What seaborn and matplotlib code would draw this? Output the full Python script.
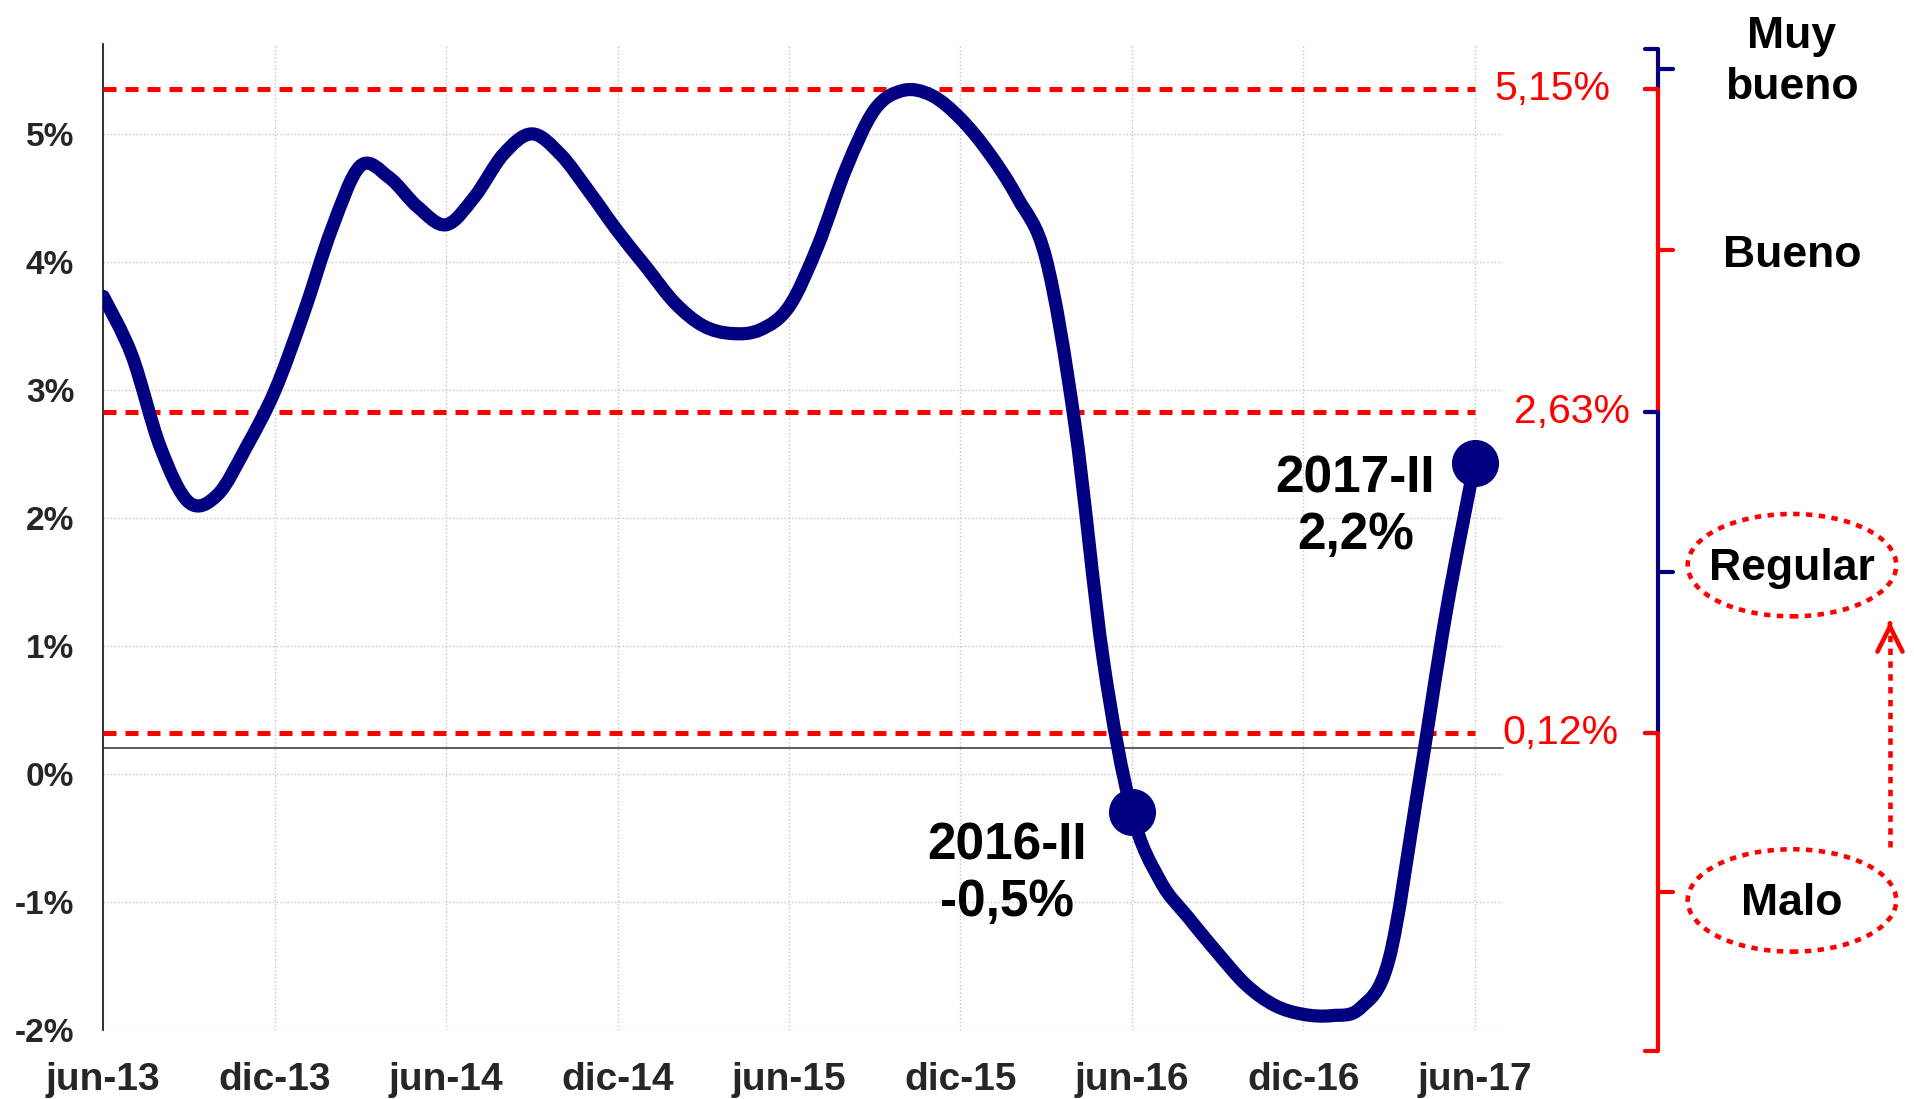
import matplotlib.pyplot as plt
import matplotlib.transforms as mtransforms
from matplotlib.patches import Ellipse, PathPatch
from matplotlib.path import Path
import numpy as np
import pandas as pd
import seaborn as sns

# monthly growth (%), jun-13 .. jun-17
growth = [3.53, 3.07, 2.35, 1.92, 1.98, 2.35, 2.79, 3.39, 4.06, 4.55,
          4.46, 4.23, 4.09, 4.31, 4.64, 4.80, 4.64, 4.35, 4.04, 3.76,
          3.48, 3.30, 3.24, 3.27, 3.45, 3.92, 4.53, 4.99, 5.14, 5.10,
          4.92, 4.65, 4.30, 3.82, 2.54, 0.69, -0.50, -1.04, -1.33, -1.60,
          -1.85, -2.01, -2.08, -2.09, -2.03, -1.65, -0.34, 1.06, 2.23]
month_labels = ["jun-13", "dic-13", "jun-14", "dic-14", "jun-15",
                "dic-15", "jun-16", "dic-16", "jun-17"]
ytick_values = [-2, -1, 0, 1, 2, 3, 4, 5]

thresholds = [5.15, 2.63, 0.12]
threshold_labels = ["5,15%", "2,63%", "0,12%"]

categories = ["Muy\nbueno", "Bueno", "Regular", "Malo"]
band_edges = [5.46, 5.15, 2.63, 0.12, -2.37]   # top to bottom

highlight_idx = [36, 48]
highlight_labels = ["2016-II\n-0,5%", "2017-II\n2,2%"]

NAVY = "#000080"
RED = "#ff0000"

sns.set_style("white")
plt.rcParams["font.family"] = ["Liberation Sans", "DejaVu Sans"]

df = pd.DataFrame({"m": np.arange(len(growth)), "growth": growth})

fig = plt.figure(figsize=(19.15, 10.99), dpi=100)
ax = fig.add_axes([0.05394, 0.06306, 0.73107, 0.89663])

sns.lineplot(data=df, x="m", y="growth", color=NAVY, linewidth=9.5, ax=ax, zorder=4)

# Excel-style smoothed line: redraw seaborn's line as a Bezier path through the same points
line = ax.lines[-1]
pts = line.get_xydata()
verts = [pts[0]]
codes = [Path.MOVETO]
for i in range(len(pts) - 1):
    p0 = pts[max(i - 1, 0)]
    p1, p2 = pts[i], pts[i + 1]
    p3 = pts[min(i + 2, len(pts) - 1)]
    verts += [p1 + (p2 - p0) / 6, p2 - (p3 - p1) / 6, p2]
    codes += [Path.CURVE4] * 3
ax.add_patch(PathPatch(Path(verts, codes), facecolor="none", edgecolor=NAVY,
                       linewidth=9.5, joinstyle="round", capstyle="round", zorder=4))
line.set_visible(False)

sns.scatterplot(data=df.iloc[highlight_idx], x="m", y="growth", s=1150,
                color=NAVY, linewidth=0, ax=ax, zorder=5)

# threshold lines
ax.hlines(thresholds, 0, len(growth) - 1, colors=RED, linewidth=3.6,
          linestyles=(0, (2.6, 1.8)), zorder=3)

ax.set_xlim(0, 49)
ax.set_ylim(-2.2, 5.5)

# original chart has its % labels shifted ~0.2 below the true values
shift = 0.2
ax.set_yticks([v - shift for v in ytick_values])
ax.set_yticklabels([f"{v}%" for v in ytick_values], fontsize=24, fontweight="bold")
ax.tick_params(axis="y", direction="out", length=7, width=1, color="#404040", pad=14)

xticks = np.arange(0, 49, 6)
ax.set_xticks(xticks)
ax.tick_params(axis="x", direction="out", length=8, width=1, color="#404040",
               labelbottom=False)
ax.spines["bottom"].set_position(("data", 0))
ax.spines["bottom"].set_color("#303030")
ax.spines["bottom"].set_linewidth(1.1)
ax.spines["left"].set_color("#202020")
ax.spines["left"].set_linewidth(1.3)
ax.spines["top"].set_visible(False)
ax.spines["right"].set_visible(False)

sec = ax.secondary_xaxis(0)
sec.set_xticks(xticks, labels=month_labels, fontsize=28, fontweight="bold")
sec.tick_params(length=0, pad=23)
sec.spines["bottom"].set_visible(False)

ax.grid(True, color="#c4c4c4", linestyle=":", linewidth=1)
ax.set_axisbelow(True)
ax.set_xlabel("")
ax.set_ylabel("")

# highlight annotations
offsets = [(-90, -45), (-86, -32)]
for i, lab, off in zip(highlight_idx, highlight_labels, offsets):
    ax.annotate(lab, xy=(df.m[i], df.growth[i]), xytext=off,
                textcoords="offset points", ha="center", va="center",
                fontsize=37, fontweight="bold", color="black")

blend = mtransforms.blended_transform_factory(ax.transAxes, ax.transData)

# threshold value labels
label_x = [0.994, 1.008, 0.999]
for t, lab, lx in zip(thresholds, threshold_labels, label_x):
    ax.text(lx, t, lab, transform=blend, ha="left", va="center",
            fontsize=29.5, color=RED)

# right-hand brace
x_line, x_hook, x_tick = 1.1105, 1.1012, 1.1212
brace_colors = [NAVY, RED, NAVY, RED]
for k, c in enumerate(brace_colors):
    hi, lo = band_edges[k], band_edges[k + 1]
    mid = (hi + lo) / 2
    ax.plot([x_hook, x_line, x_line, x_hook], [hi, hi, lo, lo], color=c,
            linewidth=3, transform=blend, clip_on=False, solid_joinstyle="round")
    ax.plot([x_line, x_tick], [mid, mid], color=c, linewidth=3,
            transform=blend, clip_on=False)

# category labels
cat_x = 1.2062
cat_y = [5.36, 3.85, 1.40, -1.21]
for lab, cy in zip(categories, cat_y):
    ax.text(cat_x, cy, lab, transform=blend, ha="center", va="center",
            fontsize=32, fontweight="bold", color="black", linespacing=1.3)

# dotted ellipses around Regular and Malo
for cy in [1.43, -1.19]:
    ax.add_patch(Ellipse((cat_x, cy), 0.149, 0.80, transform=blend,
                         fill=False, edgecolor=RED, linewidth=3.3,
                         linestyle=(0, (1.4, 1.4)), clip_on=False))

# dotted arrow from Malo up to Regular
arrow_x = 1.2762
ax.plot([arrow_x, arrow_x], [-0.77, 0.90], color=RED, linewidth=3.3,
        linestyle=(0, (1.4, 1.4)), transform=blend, clip_on=False)
ax.annotate("", xy=(arrow_x, 0.99), xytext=(arrow_x, 0.95),
            xycoords=blend, textcoords=blend, annotation_clip=False,
            arrowprops=dict(arrowstyle="->,head_length=0.9,head_width=0.45",
                            color=RED, linewidth=3.3, mutation_scale=20))

fig.savefig("out.png", dpi=100)
